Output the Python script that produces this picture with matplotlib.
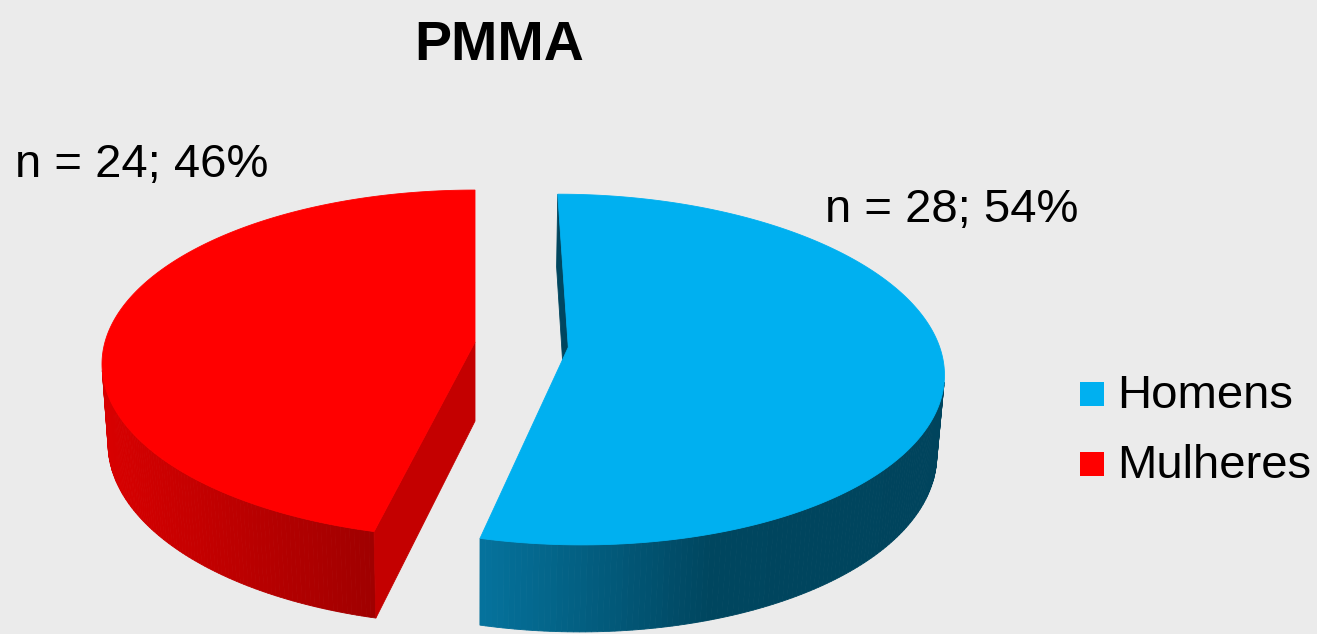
import numpy as np
import matplotlib.pyplot as plt
from matplotlib.patches import Polygon, Rectangle
from matplotlib.colors import LinearSegmentedColormap

# data
labels = ['Homens', 'Mulheres']
counts = [28, 24]
top_colors = ['#00b0f0', '#ff0000']
side_colors = [['#05729c', '#00465f', '#00445d'], ['#d80000', '#a00000']]
cut_colors = ['#00465f', '#c40000']
explode = [0.253, 0.0]

W, H = 1317, 634
plt.rcParams['font.family'] = ['Liberation Sans', 'DejaVu Sans']

fig = plt.figure(figsize=(W / 100, H / 100), dpi=100, facecolor='#ebebeb')
ax = fig.add_axes([0, 0, 1, 1])
ax.set_xlim(0, W)
ax.set_ylim(H, 0)
ax.axis('off')

# simple perspective camera for the 3D pie
L = 7.0
phi = np.arcsin(0.4627)
F = 2590
X0, Y0 = 475, 342
thick = 0.245
cam = np.array([0, -L * np.cos(phi), L * np.sin(phi)])


def project(p):
    x, y, z = p
    depth = y * np.cos(phi) - z * np.sin(phi) + L
    up = y * np.sin(phi) + z * np.cos(phi)
    return X0 + F * x / depth, Y0 - F * up / depth


def visible(normal, p):
    return np.dot(normal, cam - np.asarray(p)) > 1e-6


total = sum(counts)
start = 0.0
for i, c in enumerate(counts):
    end = start + 360.0 * c / total
    mid = np.radians((start + end) / 2)
    cx, cy = explode[i] * np.sin(mid), explode[i] * np.cos(mid)
    th = np.radians(np.linspace(start, end, 240))
    rim_top = [(cx + np.sin(t), cy + np.cos(t), 0.0) for t in th]
    rim_bot = [(cx + np.sin(t), cy + np.cos(t), -thick) for t in th]
    ctr_top = (cx, cy, 0.0)
    ctr_bot = (cx, cy, -thick)

    # outer wall, only the quads facing the camera
    quads = []
    for k in range(len(th) - 1):
        tm = (th[k] + th[k + 1]) / 2
        n = np.array([np.sin(tm), np.cos(tm), 0])
        if visible(n, rim_top[k]):
            quads.append([project(rim_top[k]), project(rim_top[k + 1]),
                          project(rim_bot[k + 1]), project(rim_bot[k])])
    if quads:
        xs = [q[0][0] for q in quads]
        x_lo, x_hi = min(xs), max(xs)
        cmap = LinearSegmentedColormap.from_list('side%d' % i, side_colors[i])
        for q in quads:
            f = (q[0][0] - x_lo) / max(x_hi - x_lo, 1)
            col = cmap(f)
            ax.add_patch(Polygon(q, closed=True, facecolor=col, edgecolor=col, lw=0.6))

    # cut faces
    for t, sgn in [(th[0], -1), (th[-1], 1)]:
        n = sgn * np.array([np.cos(t), -np.sin(t), 0])
        pt = (cx + np.sin(t), cy + np.cos(t), 0.0)
        pb = (cx + np.sin(t), cy + np.cos(t), -thick)
        if visible(n, pt):
            face = [project(ctr_top), project(pt), project(pb), project(ctr_bot)]
            ax.add_patch(Polygon(face, closed=True, facecolor=cut_colors[i],
                                 edgecolor=cut_colors[i], lw=0.6))

    # top face
    top = [project(ctr_top)] + [project(p) for p in rim_top]
    ax.add_patch(Polygon(top, closed=True, facecolor=top_colors[i],
                         edgecolor=top_colors[i], lw=0.6))
    start = end

# texts
ax.text(499, 60, 'PMMA', ha='center', va='baseline', fontsize=40, fontweight='bold')
pct = [round(100 * c / total) for c in counts]
ax.text(825, 222, 'n = %d; %d%%' % (counts[0], pct[0]), ha='left', va='baseline', fontsize=34)
ax.text(15, 177, 'n = %d; %d%%' % (counts[1], pct[1]), ha='left', va='baseline', fontsize=34)

# legend
for i, lab in enumerate(labels):
    ax.add_patch(Rectangle((1080, 382 + 70 * i), 24, 24, facecolor=top_colors[i], edgecolor='none'))
    ax.text(1117, 408 + 70 * i, lab, ha='left', va='baseline', fontsize=34)

fig.savefig('out.png', dpi=100, facecolor=fig.get_facecolor())
